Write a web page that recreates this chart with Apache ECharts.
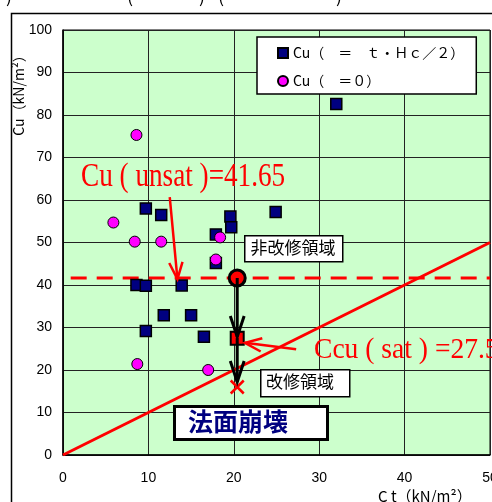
<!DOCTYPE html>
<html>
<head>
<meta charset="utf-8">
<script src="https://cdn.jsdelivr.net/npm/echarts@6/dist/echarts.min.js"></script>
<style>html,body{margin:0;padding:0;background:#fff;}#c{width:492px;height:502px;}</style>
</head>
<body>
<div id="c"></div>
<script>
// ---- data ----
const seriesNames = ['Cu（　＝　ｔ・Ｈｃ／２）', 'Cu（　＝０）'];
const squareCt = [9.7, 11.5, 19.6, 19.7, 17.9, 24.9, 17.9, 8.6, 9.7, 13.9, 11.8, 15.0, 9.7, 16.5, 32.0];
const squareCu = [58.0, 56.5, 56.1, 53.6, 51.9, 57.2, 45.2, 40.0, 39.8, 39.9, 32.9, 32.9, 29.2, 27.8, 82.6];
const circleCt = [5.9, 8.4, 11.5, 18.4, 17.9, 8.6, 8.7, 17.0];
const circleCu = [54.7, 50.2, 50.2, 51.2, 46.0, 75.3, 21.4, 20.0];
const unsatPoint = [20.4, 41.65];
const satPoint = [20.4, 27.5];
const collapsePoint = [20.4, 16.0];
const boundaryCt = [0, 50];
const boundaryCu = [0, 50];
const unsatLineCt = [0.9, 50];
const unsatLevel = 41.65;
const blackArrows = [[20.4, 41.65, 20.4, 27.8], [20.4, 27.5, 20.4, 17.2]];
const redArrows = [[12.5, 60.7, 13.4, 41.4], [27.3, 24.9, 21.3, 26.4]];
const xTicks = [0, 10, 20, 30, 40, 50];
const yTicks = [0, 10, 20, 30, 40, 50, 60, 70, 80, 90, 100];

const zip = (a, b) => a.map((v, i) => [v, b[i]]);

function arrowRender(color, width, headLen, spread) {
  return function (params, api) {
    const p1 = api.coord([api.value(0), api.value(1)]);
    const p2 = api.coord([api.value(2), api.value(3)]);
    const ang = Math.atan2(p2[1] - p1[1], p2[0] - p1[0]);
    const a1 = ang + Math.PI - spread, a2 = ang + Math.PI + spread;
    const h1 = [p2[0] + headLen * Math.cos(a1), p2[1] + headLen * Math.sin(a1)];
    const h2 = [p2[0] + headLen * Math.cos(a2), p2[1] + headLen * Math.sin(a2)];
    const style = { stroke: color, lineWidth: width, fill: null };
    return {
      type: 'group',
      children: [
        { type: 'line', shape: { x1: p1[0], y1: p1[1], x2: p2[0], y2: p2[1] }, style: style },
        { type: 'polyline', shape: { points: [h1, p2, h2] }, style: style }
      ]
    };
  };
}

const chart = echarts.init(document.getElementById('c'), null, { renderer: 'canvas' });
const axisLabelStyle = { color: '#000', fontSize: 14, fontFamily: 'Liberation Sans, Arial, sans-serif' };

chart.setOption({
  backgroundColor: '#fff',
  animation: false,
  grid: { left: 63, right: 2, top: 30, bottom: 47, containLabel: false, outerBoundsMode: 'none',
    show: true, backgroundColor: '#ccffcc', borderColor: '#000', borderWidth: 1 },
  xAxis: {
    type: 'value', min: xTicks[0], max: xTicks[xTicks.length - 1], interval: 10,
    axisLine: { lineStyle: { color: '#000', width: 1.5 } },
    axisTick: { show: false },
    axisLabel: Object.assign({ margin: 16 }, axisLabelStyle),
    splitLine: { show: true, lineStyle: { color: '#222', width: 1 } }
  },
  yAxis: {
    type: 'value', min: yTicks[0], max: yTicks[yTicks.length - 1], interval: 10,
    axisLine: { lineStyle: { color: '#000', width: 1.5 } },
    axisTick: { show: false },
    axisLabel: Object.assign({ margin: 11 }, axisLabelStyle),
    splitLine: { show: true, lineStyle: { color: '#222', width: 1 } }
  },
  legend: {
    data: seriesNames,
    orient: 'vertical',
    left: 257, top: 37,
    padding: [8, 12, 5, 20],
    itemGap: 12,
    itemWidth: 10, itemHeight: 10,
    backgroundColor: '#fff', borderColor: '#000', borderWidth: 1.5, borderRadius: 0,
    textStyle: { color: '#000', fontSize: 14, lineHeight: 16, fontFamily: 'Noto Sans CJK JP' }
  },
  series: [
    { type: 'line', data: zip(boundaryCt, boundaryCu), symbol: 'none', lineStyle: { color: '#ff0000', width: 3 }, z: 2 },
    { type: 'line', data: zip(unsatLineCt, unsatLineCt.map(() => unsatLevel)), symbol: 'none', lineStyle: { color: '#ff0000', width: 3, type: [16, 10] }, z: 2 },
    { name: seriesNames[0], type: 'scatter', data: zip(squareCt, squareCu), symbol: 'rect', symbolSize: 11,
      itemStyle: { color: '#000080', borderColor: '#000', borderWidth: 1.5, opacity: 1 }, z: 3 },
    { name: seriesNames[1], type: 'scatter', data: zip(circleCt, circleCu), symbol: 'circle', symbolSize: 11,
      itemStyle: { color: '#ff00ff', borderColor: '#000', borderWidth: 1, opacity: 1 }, z: 3 },
    { type: 'scatter', data: [unsatPoint], symbol: 'circle', symbolSize: 16,
      itemStyle: { color: '#ff0000', borderColor: '#000', borderWidth: 3, opacity: 1 }, z: 4 },
    { type: 'scatter', data: [satPoint], symbol: 'rect', symbolSize: 13,
      itemStyle: { color: '#ff0000', borderColor: '#000', borderWidth: 2, opacity: 1 }, z: 4 },
    { type: 'scatter', data: [collapsePoint], symbol: 'path://M0,0L10,10M10,0L0,10', symbolSize: 13,
      itemStyle: { color: 'none', borderColor: '#ff0000', borderWidth: 2.5, opacity: 1 }, z: 4 },
    { type: 'custom', data: blackArrows, renderItem: arrowRender('#000', 3, 22, 0.32), encode: { x: [0, 2], y: [1, 3] }, z: 5, silent: true },
    { type: 'custom', data: redArrows, renderItem: arrowRender('#ff0000', 2.5, 18, 0.38), encode: { x: [0, 2], y: [1, 3] }, z: 5, silent: true }
  ],
  graphic: [
    { type: 'rect', left: 9, top: 11, shape: { width: 600, height: 600 }, style: { fill: null, stroke: '#000', lineWidth: 1.5 }, silent: true, z: 0 },
    { type: 'text', x: 6, y: 5, style: { text: ')', fontSize: 18, fill: '#000', textVerticalAlign: 'bottom', fontFamily: 'Noto Sans CJK JP' } },
    { type: 'text', x: 127, y: 5, style: { text: '(', fontSize: 18, fill: '#000', textVerticalAlign: 'bottom', fontFamily: 'Noto Sans CJK JP' } },
    { type: 'text', x: 199, y: 5, style: { text: ')', fontSize: 18, fill: '#000', textVerticalAlign: 'bottom', fontFamily: 'Noto Sans CJK JP' } },
    { type: 'text', x: 218, y: 5, style: { text: '(', fontSize: 18, fill: '#000', textVerticalAlign: 'bottom', fontFamily: 'Noto Sans CJK JP' } },
    { type: 'text', x: 336, y: 5, style: { text: ')', fontSize: 18, fill: '#000', textVerticalAlign: 'bottom', fontFamily: 'Noto Sans CJK JP' } },
    { type: 'text', x: 19, y: 92, rotation: Math.PI / 2, style: { text: 'Cu（kN/m²）', fontSize: 14, fill: '#000', textAlign: 'center', textVerticalAlign: 'middle', fontFamily: 'Noto Sans CJK JP' } },
    { type: 'text', x: 378, y: 496, style: { text: 'C t（kN/m²）', fontSize: 15, fill: '#000', textAlign: 'left', textVerticalAlign: 'middle', fontFamily: 'Noto Sans CJK JP' } },
    { type: 'text', x: 81, y: 177, scaleX: 0.8, z: 10, style: { text: 'Cu ( unsat )=41.65', fontSize: 34, fill: '#ff0000', textVerticalAlign: 'middle', fontFamily: 'Liberation Serif, serif' } },
    { type: 'text', x: 314, y: 350, scaleX: 0.95, z: 10, style: { text: 'Ccu ( sat ) =27.5', fontSize: 29, fill: '#ff0000', textVerticalAlign: 'middle', fontFamily: 'Liberation Serif, serif' } },
    { type: 'rect', left: 244, top: 235, z: 10, shape: { width: 98, height: 26 }, style: { fill: '#fff', stroke: '#000', lineWidth: 1.5 } },
    { type: 'text', x: 293, y: 248, z: 11, style: { text: '非改修領域', fontSize: 17, fill: '#000', textAlign: 'center', textVerticalAlign: 'middle', fontFamily: 'Noto Sans CJK JP' } },
    { type: 'rect', left: 260, top: 369, z: 10, shape: { width: 89, height: 27 }, style: { fill: '#fff', stroke: '#000', lineWidth: 1.5 } },
    { type: 'text', x: 300, y: 382, z: 11, style: { text: '改修領域', fontSize: 17, fill: '#000', textAlign: 'center', textVerticalAlign: 'middle', fontFamily: 'Noto Sans CJK JP' } },
    { type: 'rect', left: 173, top: 405, z: 10, shape: { width: 153, height: 33 }, style: { fill: '#fff', stroke: '#000', lineWidth: 3 } },
    { type: 'text', x: 188, y: 421, z: 11, style: { text: '法面崩壊', fontSize: 25, fontWeight: 'bold', fill: '#000080', textAlign: 'left', textVerticalAlign: 'middle', fontFamily: 'Noto Sans CJK JP' } }
  ]
});
</script>
</body>
</html>
